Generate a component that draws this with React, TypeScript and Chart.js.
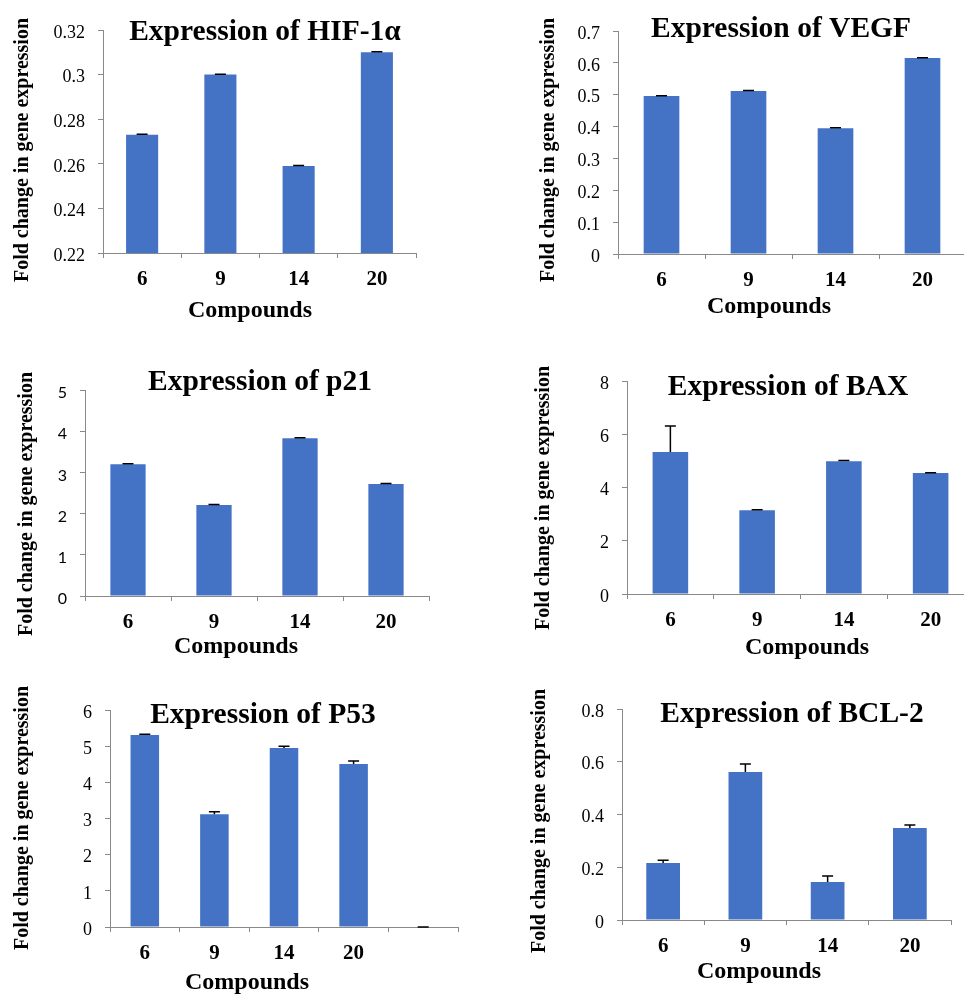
import React, { useEffect, useRef } from 'react';
import { Chart, registerables } from 'chart.js';

Chart.register(...registerables);

// ---- Data ----
const compounds = ['6', '9', '14', '20'];
const compoundsP53 = ['6', '9', '14', '20', ''];

const hifValues = [0.273, 0.3, 0.259, 0.31];
const hifErrors = [0.0002, 0.0002, 0.0002, 0.0002];
const hifAxis = [0.22, 0.32, 0.02];

const vegfValues = [0.496, 0.512, 0.395, 0.615];
const vegfErrors = [0.001, 0.001, 0.001, 0.001];
const vegfAxis = [0, 0.7, 0.1];

const p21Values = [3.2, 2.21, 3.83, 2.72];
const p21Errors = [0.01, 0.01, 0.01, 0.01];
const p21Axis = [0, 5, 1];

const baxValues = [5.33, 3.15, 4.99, 4.54];
const baxErrors = [0.98, 0.01, 0.02, 0.01];
const baxAxis = [0, 8, 2];

const p53Values = [5.31, 3.12, 4.95, 4.51, 0];
const p53Errors = [0.02, 0.07, 0.05, 0.08, 0];
const p53Axis = [0, 6, 1];

const bcl2Values = [0.216, 0.561, 0.144, 0.349];
const bcl2Errors = [0.011, 0.03, 0.023, 0.011];
const bcl2Axis = [0, 0.8, 0.2];

const yAxisTitle = 'Fold change in gene expression';
const xAxisTitle = 'Compounds';

// ---- Style ----
const BLUE = '#4472C4';
const AXIS = '#898989';
const SERIF = '"Liberation Serif", "Times New Roman", serif';
const SANS = 'Lato, Carlito, "Open Sans", sans-serif';

type PanelCfg = {
  title: string;
  labels: string[];
  values: number[];
  errors: number[];
  axis: number[];
  tickFamily: string;
  tickSize: number;
  box: number[]; // left, top, width, height
  plot: number[]; // left, top, right, bottom (page coords)
  titlePos: number[];
  yLabelPos: number[];
  xLabelPos: number[];
};

const panels: PanelCfg[] = [
  {
    title: 'Expression of HIF-1α', labels: compounds, values: hifValues, errors: hifErrors, axis: hifAxis,
    tickFamily: SERIF, tickSize: 18,
    box: [0, 0, 482, 335], plot: [103, 30, 416, 253],
    titlePos: [265, 40], yLabelPos: [28, 150], xLabelPos: [250, 317],
  },
  {
    title: 'Expression of VEGF', labels: compounds, values: vegfValues, errors: vegfErrors, axis: vegfAxis,
    tickFamily: SERIF, tickSize: 18,
    box: [482, 0, 490, 335], plot: [618, 31, 966, 254],
    titlePos: [781, 37], yLabelPos: [554, 150], xLabelPos: [769, 313],
  },
  {
    title: 'Expression of p21', labels: compounds, values: p21Values, errors: p21Errors, axis: p21Axis,
    tickFamily: SANS, tickSize: 16,
    box: [0, 335, 482, 335], plot: [85, 390, 429, 596],
    titlePos: [260, 390], yLabelPos: [32, 504], xLabelPos: [236, 653],
  },
  {
    title: 'Expression of BAX', labels: compounds, values: baxValues, errors: baxErrors, axis: baxAxis,
    tickFamily: SERIF, tickSize: 18,
    box: [482, 335, 496, 335], plot: [627, 381, 974, 594],
    titlePos: [788, 395], yLabelPos: [549, 498], xLabelPos: [807, 654],
  },
  {
    title: 'Expression of P53', labels: compoundsP53, values: p53Values, errors: p53Errors, axis: p53Axis,
    tickFamily: SERIF, tickSize: 18,
    box: [0, 670, 482, 324], plot: [110, 710, 458, 927],
    titlePos: [263, 723], yLabelPos: [28, 818], xLabelPos: [247, 989],
  },
  {
    title: 'Expression of BCL-2', labels: compounds, values: bcl2Values, errors: bcl2Errors, axis: bcl2Axis,
    tickFamily: SERIF, tickSize: 18,
    box: [482, 670, 482, 324], plot: [622, 709, 951, 920],
    titlePos: [792, 722], yLabelPos: [545, 821], xLabelPos: [759, 978],
  },
];

const errorBarPlugin = {
  id: 'errorBars',
  afterDatasetsDraw(chart: any) {
    const ds = chart.data.datasets[0];
    const errs: number[] = ds.errors || [];
    const meta = chart.getDatasetMeta(0);
    const yScale = chart.scales.y;
    const ctx = chart.ctx;
    ctx.save();
    ctx.strokeStyle = '#000';
    ctx.lineWidth = 1.5;
    meta.data.forEach((bar: any, i: number) => {
      const v = ds.data[i];
      const e = errs[i] || 0;
      const x = bar.x;
      const y0 = yScale.getPixelForValue(v);
      const y1 = yScale.getPixelForValue(v + e);
      ctx.beginPath();
      ctx.moveTo(x, y0);
      ctx.lineTo(x, y1);
      ctx.moveTo(x - 5.5, y1);
      ctx.lineTo(x + 5.5, y1);
      ctx.stroke();
    });
    ctx.restore();
  },
};

function Panel({ cfg }: { cfg: PanelCfg }) {
  const ref = useRef<HTMLCanvasElement>(null);
  const [bl, bt, bw, bh] = cfg.box;
  useEffect(() => {
    const [pl, pt, pr, pb] = cfg.plot;
    const [ymin, ymax, ystep] = cfg.axis;
    const textPlugin = {
      id: 'panelTexts',
      afterDraw(chart: any) {
        const ctx = chart.ctx;
        ctx.save();
        ctx.fillStyle = '#000';
        ctx.textBaseline = 'alphabetic';
        ctx.textAlign = 'center';
        ctx.font = `bold 29.5px ${SERIF}`;
        ctx.fillText(cfg.title, cfg.titlePos[0] - bl, cfg.titlePos[1] - bt);
        ctx.font = `bold 24px ${SERIF}`;
        ctx.fillText(xAxisTitle, cfg.xLabelPos[0] - bl, cfg.xLabelPos[1] - bt);
        ctx.translate(cfg.yLabelPos[0] - bl, cfg.yLabelPos[1] - bt);
        ctx.rotate(-Math.PI / 2);
        ctx.font = `bold 20px ${SERIF}`;
        ctx.fillText(yAxisTitle, 0, 0);
        ctx.restore();
      },
    };
    const chart = new Chart(ref.current as HTMLCanvasElement, {
      type: 'bar',
      data: {
        labels: cfg.labels,
        datasets: [
          {
            data: cfg.values,
            errors: cfg.errors,
            backgroundColor: BLUE,
            borderWidth: 0,
            categoryPercentage: 1,
            barPercentage: 0.41,
          } as any,
        ],
      },
      options: {
        responsive: false,
        animation: false,
        events: [],
        layout: { padding: { top: pt - bt, right: bl + bw - pr, left: 0, bottom: 0 } },
        plugins: { legend: { display: false }, tooltip: { enabled: false }, title: { display: false } },
        scales: {
          x: {
            offset: true,
            grid: { offset: true, drawOnChartArea: false, drawTicks: true, tickLength: 5, color: AXIS },
            border: { color: AXIS, width: 1 },
            ticks: {
              font: { family: SERIF, size: 21, weight: 'bold' },
              color: '#000',
              padding: 9,
              maxRotation: 0,
              autoSkip: false,
            },
            afterFit: (s: any) => {
              s.height = bt + bh - pb;
            },
          },
          y: {
            min: ymin,
            max: ymax,
            grid: { drawOnChartArea: false, drawTicks: true, tickLength: 5, color: AXIS },
            border: { color: AXIS, width: 1 },
            ticks: {
              stepSize: ystep,
              font: { family: cfg.tickFamily, size: cfg.tickSize },
              color: '#000',
              padding: 13,
              labelOffset: 3,
              autoSkip: false,
              callback: (v: any) => String(Number(Number(v).toFixed(4))),
            },
            afterFit: (s: any) => {
              s.width = pl - bl;
            },
          },
        },
      } as any,
      plugins: [errorBarPlugin, textPlugin],
    });
    return () => chart.destroy();
  }, [cfg]);
  return (
    <canvas
      ref={ref}
      width={bw}
      height={bh}
      style={{ position: 'absolute', left: bl, top: bt, width: bw, height: bh }}
    />
  );
}

export default function App() {
  return (
    <div
      style={{
        position: 'absolute',
        left: 0,
        top: 0,
        width: 964,
        height: 994,
        overflow: 'hidden',
        background: '#fff',
      }}
    >
      {panels.map((p, i) => (
        <Panel key={i} cfg={p} />
      ))}
    </div>
  );
}
